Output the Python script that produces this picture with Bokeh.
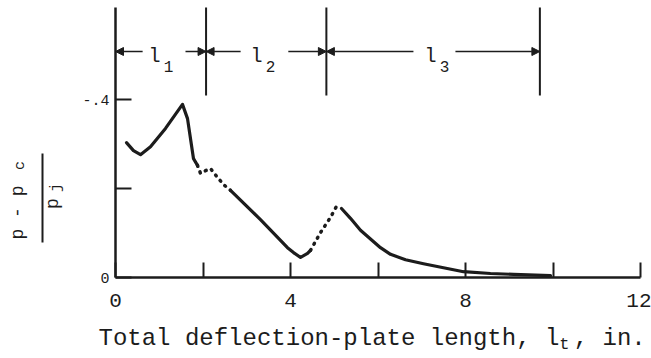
import math
from bokeh.plotting import figure
from bokeh.models import Range1d, FixedTicker, Label, Arrow, NormalHead, ColumnDataSource
from bokeh.embed import file_html
from bokeh.resources import INLINE

# ---- curve data ----
x_solid1 = [0.251, 0.411, 0.571, 0.800, 1.143, 1.531, 1.646, 1.783, 1.874]
y_solid1 = [0.303, 0.285, 0.276, 0.294, 0.335, 0.389, 0.357, 0.267, 0.252]
x_dot1 = [1.874, 1.943, 2.057, 2.171, 2.354, 2.491, 2.629]
y_dot1 = [0.252, 0.234, 0.240, 0.245, 0.222, 0.207, 0.196]
x_solid2 = [2.629, 3.314, 3.931, 4.069, 4.229, 4.389, 4.457]
y_solid2 = [0.196, 0.130, 0.067, 0.056, 0.045, 0.054, 0.061]
x_dot2 = [4.457, 4.686, 4.914, 5.074]
y_dot2 = [0.061, 0.101, 0.135, 0.164]
x_solid3 = [5.166, 5.371, 5.600, 6.057, 6.286, 6.629, 7.040, 7.497, 7.954, 8.571, 9.097, 9.943]
y_solid3 = [0.155, 0.133, 0.106, 0.067, 0.052, 0.040, 0.031, 0.022, 0.013, 0.009, 0.007, 0.004]

# ---- plate-length regions ----
region_edges = [0.0, 2.07, 4.82, 9.70]
region_subs = ["1", "2", "3"]
region_label_x = [0.891, 3.223, 7.200]
arrow_outer = [0.0, 2.07, 2.07, 4.82, 4.82, 9.70]
arrow_inner = [0.62, 1.60, 2.86, 3.95, 6.81, 7.77]

# ---- ticks ----
x_ticks = [0, 2, 4, 6, 8, 10, 12]
x_tick_labels = {0: "0", 2: "", 4: "4", 6: "", 8: "8", 10: "", 12: "12"}
y_ticks = [0, 0.2, 0.4]
y_tick_labels = {0: "0", 0.2: "", 0.4: "-.4"}

INK = "#1c1c1c"
FONT = "Liberation Mono"

# pixel helpers for annotation placement (x=0 at px 115, x=12 at px 640; y=0 at px 277, 0.4 at px 99)
def dx(px):
    return (px - 115) / 43.75

def dy(py):
    return (277 - py) / 445.0

p = figure(width=651, height=358, output_backend="svg", toolbar_location=None,
           x_range=Range1d(dx(0), dx(651)), y_range=Range1d(dy(358), dy(0)),
           min_border=0)
p.outline_line_color = None
p.xgrid.visible = False
p.ygrid.visible = False
p.background_fill_color = "white"
p.border_fill_color = "white"

for ax in (p.xaxis, p.yaxis):
    ax.axis_line_color = INK
    ax.axis_line_width = 2.5
    ax.major_tick_line_color = INK
    ax.major_tick_line_width = 2
    ax.major_tick_out = 0
    ax.minor_tick_line_color = None
    ax.major_label_text_font = FONT
    ax.major_label_text_color = INK
    ax.fixed_location = 0

top_y = dy(7)
p.xaxis.bounds = (0, 12)
p.xaxis.ticker = FixedTicker(ticks=x_ticks)
p.xaxis.major_label_overrides = x_tick_labels
p.xaxis.major_tick_in = 15
p.xaxis.major_label_text_font_size = "21px"
p.xaxis.major_label_standoff = 16

p.yaxis.bounds = (0, top_y)
p.yaxis.ticker = FixedTicker(ticks=y_ticks)
p.yaxis.major_label_overrides = y_tick_labels
p.yaxis.major_tick_in = 16
p.yaxis.major_label_text_font_size = "15px"
p.yaxis.major_label_standoff = 6

# ---- curve ----
for xs, ys in ((x_solid1, y_solid1), (x_solid2, y_solid2), (x_solid3, y_solid3)):
    p.line(xs, ys, line_color=INK, line_width=3.2, line_join="round", line_cap="round")
for xs, ys in ((x_dot1, y_dot1), (x_dot2, y_dot2)):
    p.line(xs, ys, line_color=INK, line_width=3.5, line_dash="1 6", line_cap="round", line_join="round")

# ---- region boundary lines ----
p.segment(x0=region_edges[1:], y0=[dy(95)] * 3, x1=region_edges[1:], y1=[top_y] * 3,
          line_color=INK, line_width=2)

arrow_y = dy(51)
asrc = ColumnDataSource(dict(xs=arrow_inner, xe=arrow_outer,
                             ys=[arrow_y] * 6, ye=[arrow_y] * 6))
p.add_layout(Arrow(end=NormalHead(size=8, fill_color=INK, line_color=INK), start=None,
                   x_start="xs", y_start="ys", x_end="xe", y_end="ye", source=asrc,
                   line_color=INK, line_width=1.5))

for lx, sub in zip(region_label_x, region_subs):
    p.add_layout(Label(x=lx, y=dy(56), text="l", text_font=FONT, text_font_size="20px",
                       text_color=INK, text_align="center", text_baseline="middle"))
    p.add_layout(Label(x=lx + 0.32, y=dy(66), text=sub, text_font=FONT, text_font_size="16px",
                       text_color=INK, text_align="center", text_baseline="middle"))

# ---- y-axis title: (p - p_c) / p_j, rotated ----
p.add_layout(Label(x=dx(17), y=dy(212), text="p - p", angle=math.pi / 2, text_font=FONT,
                   text_font_size="18px", text_color=INK, text_align="center", text_baseline="middle"))
p.add_layout(Label(x=dx(20), y=dy(165), text="c", angle=math.pi / 2, text_font=FONT,
                   text_font_size="15px", text_color=INK, text_align="center", text_baseline="middle"))
p.segment(x0=[dx(42)], y0=[dy(153)], x1=[dx(42)], y1=[dy(242)], line_color=INK, line_width=2)
p.add_layout(Label(x=dx(52), y=dy(203), text="p", angle=math.pi / 2, text_font=FONT,
                   text_font_size="18px", text_color=INK, text_align="center", text_baseline="middle"))
p.add_layout(Label(x=dx(56), y=dy(187), text="j", angle=math.pi / 2, text_font=FONT,
                   text_font_size="15px", text_color=INK, text_align="center", text_baseline="middle"))

# ---- x-axis title with subscript ----
cw = 14.4
p.add_layout(Label(x=dx(98), y=dy(338), text="Total deflection-plate length, l", text_font=FONT,
                   text_font_size="24px", text_color=INK, text_align="left", text_baseline="middle"))
p.add_layout(Label(x=dx(98 + 32 * cw), y=dy(344), text="t", text_font=FONT,
                   text_font_size="17px", text_color=INK, text_align="left", text_baseline="middle"))
p.add_layout(Label(x=dx(98 + 33 * cw), y=dy(338), text=", in.", text_font=FONT,
                   text_font_size="24px", text_color=INK, text_align="left", text_baseline="middle"))

open("out.html", "w").write(file_html(p, INLINE))
